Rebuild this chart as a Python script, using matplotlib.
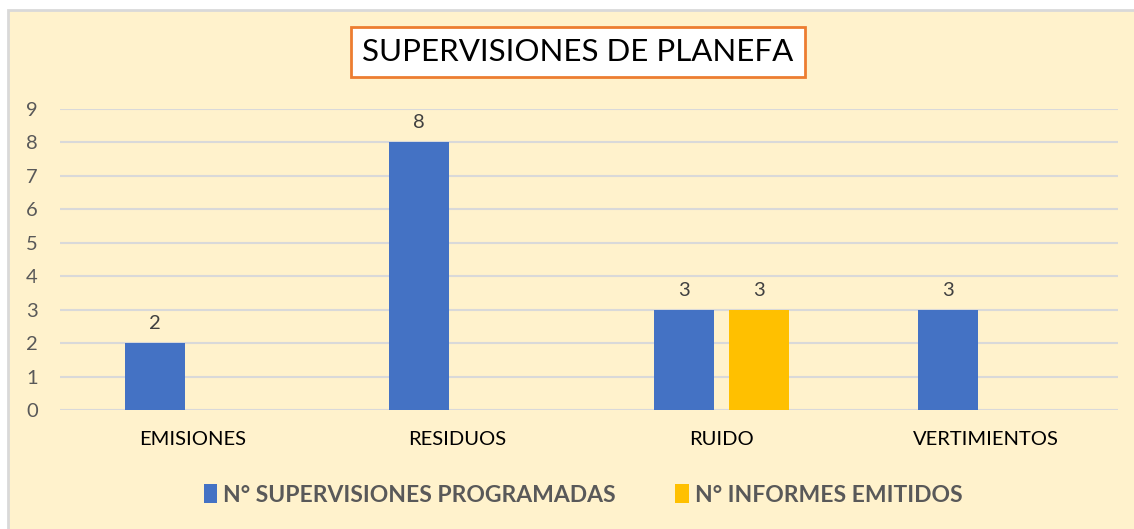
import numpy as np
import matplotlib
matplotlib.use('Agg')
import matplotlib.pyplot as plt
from matplotlib.patches import Rectangle

categories = ['EMISIONES', 'RESIDUOS', 'RUIDO', 'VERTIMIENTOS']
programadas = [2, 8, 3, 3]
emitidos = [0, 0, 3, 0]
series_names = ['N° SUPERVISIONES PROGRAMADAS', 'N° INFORMES EMITIDOS']
y_ticks = list(range(0, 10))

plt.rcParams['font.family'] = ['Lato', 'DejaVu Sans']

fig = plt.figure(figsize=(11.34, 5.29), dpi=100)
fig.patch.set_facecolor('white')

# cream chart area with grey top/left border
bg = Rectangle((8 / 1134, -0.01), 1.01 - 8 / 1134, 1.01 - 10 / 529, transform=fig.transFigure,
               facecolor='#FFF2CC', edgecolor='#D9D9D9', linewidth=2, zorder=-10)
fig.patches.append(bg)

ax = fig.add_axes([60 / 1134, 119 / 529, 1058 / 1134, 301 / 529])
ax.set_facecolor('none')

x = np.arange(len(categories))
width = 0.227
offset = 0.142
b1 = ax.bar(x - offset, programadas, width, color='#4472C4', label=series_names[0], zorder=3)
b2 = ax.bar(x + offset, emitidos, width, color='#FFC000', label=series_names[1], zorder=3)

for bars, vals in ((b1, programadas), (b2, emitidos)):
    for bar, v in zip(bars, vals):
        if v:
            ax.text(bar.get_x() + bar.get_width() / 2, v + 0.33, str(v),
                    ha='center', va='bottom', fontsize=14.5, color='#404040')

ax.set_xlim(-0.5, len(categories) - 0.5)
ax.set_ylim(0, 9)
ax.set_yticks(y_ticks)
ax.set_xticks(x)
ax.set_xticklabels(categories, fontsize=14.5, color='black')
ax.tick_params(axis='y', labelsize=14.5, colors='#595959', length=0, pad=16)
ax.tick_params(axis='x', length=0, pad=15)
ax.grid(axis='y', color='#D9D9D9', linewidth=1.5, zorder=0)
for s in ax.spines.values():
    s.set_visible(False)

fig.text(578 / 1134, 1 - 52 / 529, 'SUPERVISIONES DE PLANEFA', ha='center', va='center',
         fontsize=22.5, color='black',
         bbox=dict(boxstyle='square,pad=0.35', facecolor='white', edgecolor='#ED7D31', linewidth=2))

leg = ax.legend(loc='center', bbox_to_anchor=(583 / 1134, 1 - 495 / 529), bbox_transform=fig.transFigure,
                ncol=2, frameon=False, handlelength=0.6, handleheight=0.9, handletextpad=0.25,
                columnspacing=2.6, prop={'weight': 'bold', 'size': 16.5})
for t in leg.get_texts():
    t.set_color('#595959')

fig.savefig('out.png', dpi=100, facecolor=fig.get_facecolor())
